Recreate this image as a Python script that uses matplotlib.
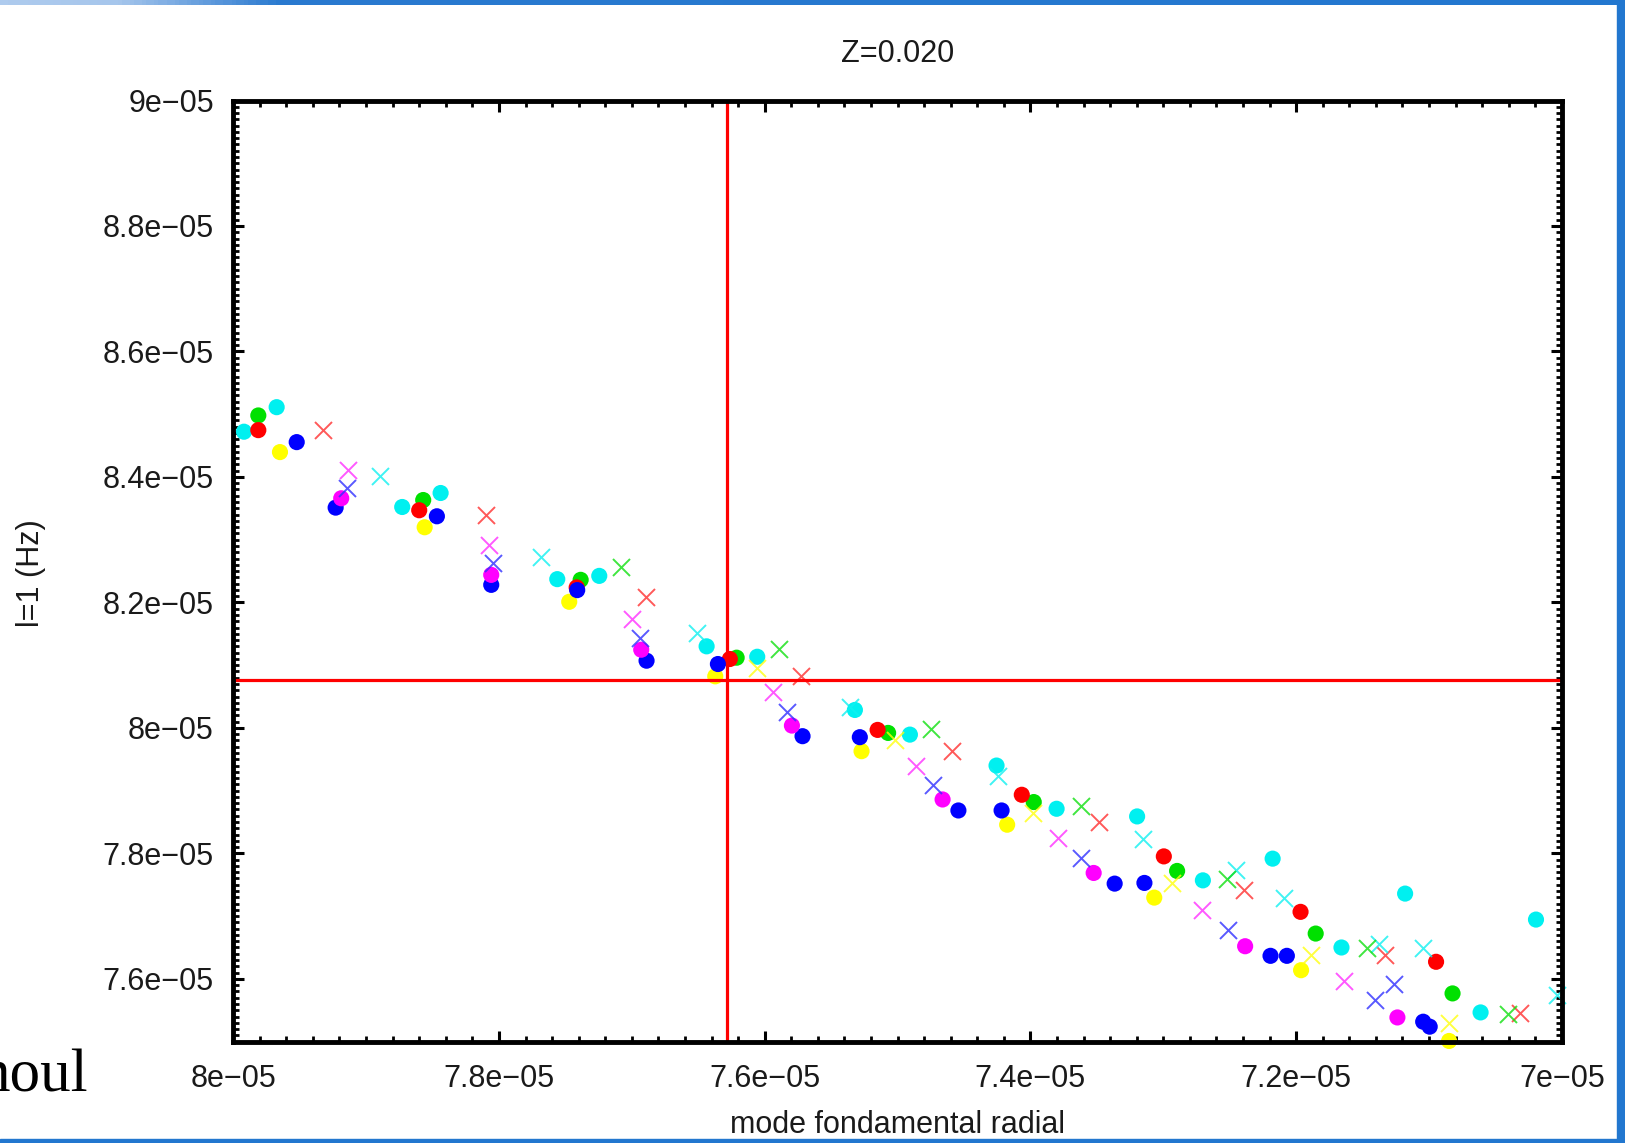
import numpy as np
import matplotlib
matplotlib.use('Agg')
import matplotlib.pyplot as plt
from matplotlib.ticker import FixedLocator, MultipleLocator, FuncFormatter
from matplotlib.colors import LinearSegmentedColormap
from matplotlib.patches import Rectangle

# values are read in units of 1e-05 Hz
U = 1e-5

# filled circles
cyan_o_x = [7.9919, 7.9673, 7.8728, 7.8439, 7.7561, 7.7245, 7.6437, 7.6056, 7.5321, 7.4907,
            7.4255, 7.3803, 7.3197, 7.2702, 7.2177, 7.1659, 7.1180, 7.0612, 7.0195]
cyan_o_y = [8.4721, 8.5112, 8.3521, 8.3744, 8.2371, 8.2423, 8.1300, 8.1134, 8.0286, 7.9893,
            7.9400, 7.8711, 7.8589, 7.7570, 7.7916, 7.6500, 7.7359, 7.5465, 7.6945]
green_o_x = [7.9811, 7.8570, 7.7385, 7.6211, 7.5071, 7.3975, 7.2896, 7.1853, 7.0823]
green_o_y = [8.4980, 8.3632, 8.2360, 8.1119, 7.9920, 7.8818, 7.7720, 7.6722, 7.5768]
red_o_x = [7.9811, 7.8600, 7.7415, 7.6262, 7.5150, 7.4065, 7.2996, 7.1967, 7.0947]
red_o_y = [8.4746, 8.3469, 8.2239, 8.1098, 7.9968, 7.8934, 7.7952, 7.7068, 7.6272]
yellow_o_x = [7.9648, 7.8559, 7.7471, 7.6372, 7.5271, 7.4175, 7.3068, 7.1963, 7.0849]
yellow_o_y = [8.4396, 8.3198, 8.2010, 8.0822, 7.9629, 7.8457, 7.7295, 7.6138, 7.5010]
blue_o_x = [7.9522, 7.9229, 7.8467, 7.8058, 7.7411, 7.6889, 7.6352, 7.5715, 7.5284, 7.4542,
            7.4217, 7.3366, 7.3142, 7.2193, 7.2070, 7.1044, 7.0995]
blue_o_y = [8.4555, 8.3511, 8.3373, 8.2280, 8.2196, 8.1071, 8.1018, 7.9868, 7.9852, 7.8684,
            7.8684, 7.7518, 7.7529, 7.6367, 7.6367, 7.5317, 7.5238]
magenta_o_x = [7.9187, 7.8058, 7.6929, 7.5795, 7.4661, 7.3524, 7.2384, 7.1238]
magenta_o_y = [8.3660, 8.2439, 8.1246, 8.0037, 7.8859, 7.7688, 7.6520, 7.5385]

# crosses
red_x_x = [7.9327, 7.8096, 7.6894, 7.5730, 7.4589, 7.3482, 7.2394, 7.1335, 7.0314]
red_x_y = [8.4741, 8.3400, 8.2080, 8.0832, 7.9629, 7.8500, 7.7411, 7.6377, 7.5449]
magenta_x_x = [7.9138, 7.8073, 7.7001, 7.5936, 7.4862, 7.3790, 7.2712, 7.1643]
magenta_x_y = [8.4110, 8.2923, 8.1734, 8.0568, 7.9400, 7.8250, 7.7104, 7.5970]
blue_x_x = [7.9146, 7.8043, 7.6939, 7.5835, 7.4732, 7.3618, 7.2511, 7.1406, 7.1263]
blue_x_y = [8.3819, 8.2630, 8.1427, 8.0250, 7.9082, 7.7927, 7.6786, 7.5661, 7.5916]
cyan_x_x = [7.8893, 7.7684, 7.6512, 7.5359, 7.4244, 7.3149, 7.2452, 7.2089, 7.1374, 7.1044, 7.0039]
cyan_x_y = [8.4010, 8.2726, 8.1507, 8.0339, 7.9241, 7.8234, 7.7729, 7.7295, 7.6552, 7.6484, 7.5740]
green_x_x = [7.7084, 7.5895, 7.4749, 7.3618, 7.2524, 7.1464, 7.0405]
green_x_y = [8.2566, 8.1257, 7.9984, 7.8754, 7.7597, 7.6484, 7.5438]
yellow_x_x = [7.6061, 7.5020, 7.3981, 7.2938, 7.1892, 7.0849]
yellow_x_y = [8.0950, 7.9814, 7.8647, 7.7534, 7.6388, 7.5290]

ref_x = 7.6287
ref_y = 8.0760

x_ticks = [8.0, 7.8, 7.6, 7.4, 7.2, 7.0]
y_ticks = [7.6, 7.8, 8.0, 8.2, 8.4, 8.6, 8.8, 9.0]

W, H = 1625, 1143
fig = plt.figure(figsize=(W / 100, H / 100), dpi=100)
fig.patch.set_facecolor('white')

FONT = 'Liberation Sans'
FS = 22
TXT = '#1a1a1a'

ax = fig.add_axes([233.2 / W, 1 - 1041.6 / H, (1561.9 - 233.2) / W, (1041.6 - 100.5) / H])

circles = [(cyan_o_x, cyan_o_y, '#00f0f0'), (green_o_x, green_o_y, '#00e000'),
           (red_o_x, red_o_y, '#ff0000'), (yellow_o_x, yellow_o_y, '#ffff00'),
           (blue_o_x, blue_o_y, '#0000ff'), (magenta_o_x, magenta_o_y, '#ff00ff')]
for xs, ys, c in circles:
    ax.scatter(np.array(xs) * U, np.array(ys) * U, s=135, color=c, marker='o',
               edgecolors='none', zorder=3, clip_on=False)

crosses = [(red_x_x, red_x_y, '#ff3030'), (magenta_x_x, magenta_x_y, '#ff30ff'),
           (blue_x_x, blue_x_y, '#3030ff'), (cyan_x_x, cyan_x_y, '#10f0f0'),
           (green_x_x, green_x_y, '#10e010'), (yellow_x_x, yellow_x_y, '#ffff10')]
for xs, ys, c in crosses:
    ax.scatter(np.array(xs) * U, np.array(ys) * U, s=150, color=c, marker='x',
               linewidths=1.4, alpha=0.8, zorder=3, clip_on=False)

ax.axvline(ref_x * U, color='#ff0000', lw=2.3, zorder=4)
ax.axhline(ref_y * U, color='#ff0000', lw=2.3, zorder=4)

ax.set_xlim(8e-05, 7e-05)
ax.set_ylim(7.5e-05, 9e-05)

fmt = FuncFormatter(lambda v, p: ('%g' % v).replace('-', '\u2212'))
ax.xaxis.set_major_locator(FixedLocator([t * U for t in x_ticks]))
ax.yaxis.set_major_locator(FixedLocator([t * U for t in y_ticks]))
ax.xaxis.set_major_formatter(fmt)
ax.yaxis.set_major_formatter(fmt)
ax.xaxis.set_minor_locator(MultipleLocator(2e-07))
ax.yaxis.set_minor_locator(MultipleLocator(1e-07))

ax.tick_params(which='both', direction='in', top=True, right=True, color='black')
ax.tick_params(which='major', length=8, width=2.2)
ax.tick_params(which='minor', length=4, width=2.0)
ax.tick_params(axis='x', which='major', pad=16)
ax.tick_params(axis='y', which='major', pad=14)
for lab in ax.get_xticklabels() + ax.get_yticklabels():
    lab.set_fontfamily(FONT)
    lab.set_fontsize(FS)
    lab.set_color(TXT)
for sp in ax.spines.values():
    sp.set_linewidth(3.5)
    sp.set_color('black')
    sp.set_zorder(5)

cx = (233.2 + 1561.9) / 2 / W
fig.text(cx, 1 - 54 / H, 'Z=0.020', ha='center', va='center', family=FONT, size=FS, color=TXT)
fig.text(cx, 1 - 1125 / H, 'mode fondamental radial', ha='center', va='center',
         family=FONT, size=FS, color=TXT)
fig.text(31 / W, 1 - 573 / H, 'l=1 (Hz)', ha='center', va='center', rotation=90,
         family=FONT, size=FS, color=TXT)
fig.text(88 / W, 1 - 1091.7 / H, 'noul', ha='right', va='baseline',
         family='Liberation Serif', size=44, color='black')

# slide frame around the picture
frame = '#2277cf'
grad = fig.add_axes([0, 1 - 5 / H, 1, 5 / H])
cmap = LinearSegmentedColormap.from_list('band', [(0, '#aecbee'), (0.07, '#a6c6ec'),
                                                  (0.17, '#2a7ad0'), (1, frame)])
grad.imshow(np.linspace(0, 1, 400)[None, :], aspect='auto', cmap=cmap, extent=[0, 1, 0, 1])
grad.set_axis_off()
fig.patches.append(Rectangle((1 - 8 / W, 0), 8 / W, 1, transform=fig.transFigure,
                             color=frame, zorder=10))
fig.patches.append(Rectangle((0, 0), 1, 4 / H, transform=fig.transFigure,
                             color=frame, zorder=10))

fig.savefig('out.png', dpi=100)
